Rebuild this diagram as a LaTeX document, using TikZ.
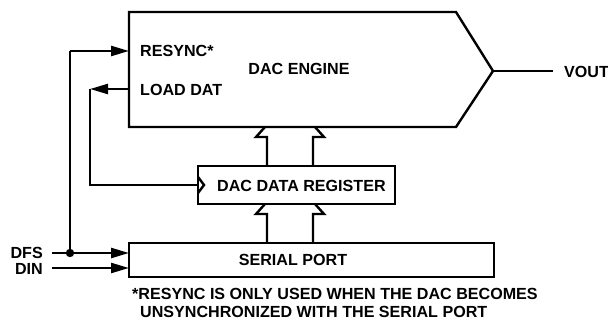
\documentclass[tikz,border=0pt]{standalone}
\usepackage{fontspec}
\setmainfont{Liberation Sans}
\usetikzlibrary{arrows.meta}
\begin{document}
\begin{tikzpicture}[x=1pt,y=-1pt,
  lbl/.style={font=\fontsize{16.1}{18}\selectfont\bfseries,inner sep=0pt},
  wire/.style={line width=2.4pt},
  arr/.style={wire,-{Triangle[length=18pt,width=10pt]}},
  blk/.style={line width=2.4pt,draw}]
\useasboundingbox (0,0) rectangle (608,320);
% DAC engine
\draw[blk,line join=miter] (129,12) -- (456,12) -- (493,71) -- (456,127) -- (129,127) -- cycle;
\coordinate (eng-out) at (493,71);
\node[lbl,anchor=center] (eng) at (299,69) {DAC ENGINE};
\node[lbl,anchor=west] (resync) at (140,51) {RESYNC*};
\node[lbl,anchor=west] (load) at (140,90) {LOAD DAT};
% VOUT
\node[lbl,anchor=west] (vout) at (564,72) {VOUT};
\coordinate (vout-end) at (553,71);
\draw[wire] (eng-out) -- (vout-end);
% register
\draw[blk] (198,166) rectangle (395,204);
\draw[wire,line join=miter] (198,177) -- (204,185) -- (198,193);
\node[lbl,anchor=west] (reg) at (217,186) {DAC DATA REGISTER};
% serial port
\draw[blk] (129,243) rectangle (494,277);
\node[lbl,anchor=center] (ser) at (293,260) {SERIAL PORT};
% bus arrows
\draw[wire,line join=miter] (267,166) -- (267,137) -- (256,137) -- (265,127);
\draw[wire,line join=miter] (313,166) -- (313,137) -- (324,137) -- (315,127);
\draw[wire,line join=miter] (267,243) -- (267,214) -- (256,214) -- (265,204);
\draw[wire,line join=miter] (313,243) -- (313,214) -- (324,214) -- (315,204);
% inputs
\node[lbl,anchor=east] (dfs) at (43,253) {DFS};
\node[lbl,anchor=east] (din) at (43,269) {DIN};
\coordinate (dfs-s) at (52,253);
\coordinate (din-s) at (52,268);
\coordinate (junc) at (70,253);
\coordinate (rs-top) at (70,51);
\draw[arr] (dfs-s) -- (129,253);
\draw[arr] (din-s) -- (129,268);
\fill (junc) circle (4.2);
\draw[wire] (junc) -- (rs-top);
\draw[arr] (rs-top) -- (129,51);
% load dat feedback
\coordinate (ld-a) at (90,89);
\coordinate (ld-b) at (90,185);
\draw[arr] (129,89) -- (ld-a);
\draw[wire] (ld-a) -- (ld-b) -- (198,185);
% footnote
\node[lbl,anchor=west] (fn1) at (132,294) {*RESYNC IS ONLY USED WHEN THE DAC BECOMES};
\node[lbl,anchor=west] (fn2) at (140,312) {UNSYNCHRONIZED WITH THE SERIAL PORT};
\end{tikzpicture}
\end{document}
